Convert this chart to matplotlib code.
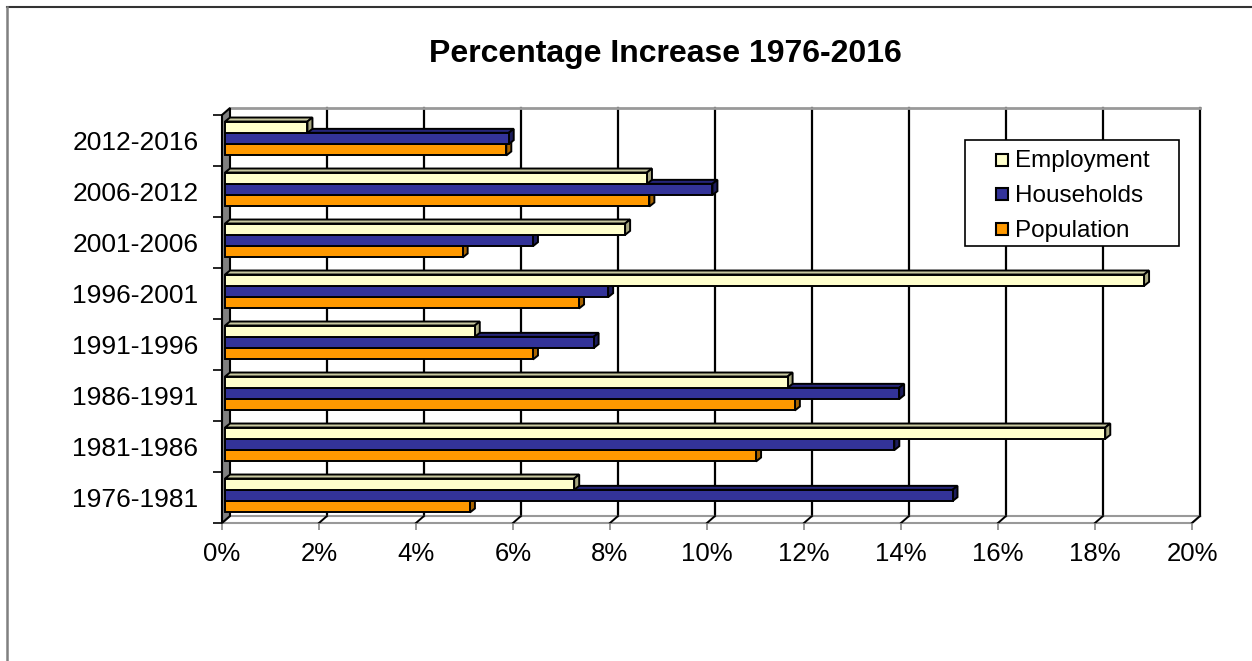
import numpy as np
import matplotlib
matplotlib.use("Agg")
import matplotlib.pyplot as plt
from matplotlib.patches import Polygon, Rectangle
from matplotlib.lines import Line2D
from matplotlib.transforms import offset_copy

plt.rcParams['font.family'] = ['Liberation Sans', 'DejaVu Sans']

# --- data (percent increase per period) ---
periods = ['1976-1981', '1981-1986', '1986-1991', '1991-1996',
           '1996-2001', '2001-2006', '2006-2012', '2012-2016']
employment = [7.2, 18.15, 11.6, 5.15, 18.95, 8.25, 8.7, 1.7]
households = [15.0, 13.8, 13.9, 7.6, 7.9, 6.35, 10.05, 5.85]
population = [5.05, 10.95, 11.75, 6.35, 7.3, 4.9, 8.75, 5.8]
x_ticks = [0, 2, 4, 6, 8, 10, 12, 14, 16, 18, 20]
series_names = ['Employment', 'Households', 'Population']

# colours: front, top, side
colors = {
    'Employment': ('#FFFFCC', '#C8C8A0', '#A8A880'),
    'Households': ('#333399', '#26267A', '#1C1C5C'),
    'Population': ('#FF9900', '#CC7A00', '#A86400'),
}

W, H = 1252, 661
fig = plt.figure(figsize=(W / 100, H / 100), dpi=100)

# front plane of the pseudo-3D box (pixels)
x0, x1, ytop, ybot = 222, 1192, 115, 523
ax = fig.add_axes([x0 / W, (H - ybot) / H, (x1 - x0) / W, (ybot - ytop) / H])
ax.set_xlim(0, 20)
ax.set_ylim(-0.5, 7.5)
for s in ax.spines.values():
    s.set_visible(False)

kx = 20 / (x1 - x0)   # data units per pixel
ky = 8 / (ybot - ytop)
wall_dx, wall_dy = 8, 7


def P(x, y, ox=0, oy=0):
    return (x + ox * kx, y + oy * ky)


# back wall gridlines + floor diagonals
for t in x_ticks[1:]:
    ax.plot([t + wall_dx * kx] * 2, [-0.5 + wall_dy * ky, 7.5 + wall_dy * ky],
            color='black', lw=1.6, zorder=1, clip_on=False)
    ax.plot([t, t + wall_dx * kx], [-0.5, -0.5 + wall_dy * ky],
            color='black', lw=1.4, zorder=1.5, clip_on=False)
ax.plot([wall_dx * kx, 20 + wall_dx * kx], [7.5 + wall_dy * ky] * 2,
        color='#999999', lw=2, zorder=1, clip_on=False)

# floor
ax.add_patch(Polygon([P(0, -0.5), P(20, -0.5), P(20, -0.5, wall_dx, wall_dy),
                      P(0, -0.5, wall_dx, wall_dy)], closed=True,
                     facecolor='none', edgecolor='#999999', lw=1.5,
                     zorder=1.2, clip_on=False))
# left wall
ax.add_patch(Polygon([P(0, -0.5), P(0, 7.5), P(0, 7.5, wall_dx, wall_dy),
                      P(0, -0.5, wall_dx, wall_dy)], closed=True,
                     facecolor='#808080', edgecolor='black', lw=1.5,
                     zorder=2, clip_on=False))

# bars (front face offset + depth)
fx_off, fy_off = 3, 2
dep_x, dep_y = 5, 4
bh = 0.222
ypos = np.arange(len(periods))
front_tr = offset_copy(ax.transData, fig=fig, x=fx_off, y=fy_off, units='dots')

series = [('Population', population, -bh), ('Households', households, 0.0),
          ('Employment', employment, bh)]
for k, (name, vals, shift) in enumerate(series):
    fc, tc, sc = colors[name]
    z = 3 + k * 0.1
    for yc, v in zip(ypos + shift, vals):
        yt = yc + bh / 2
        yb = yc - bh / 2
        top = [P(0, yt, fx_off, fy_off), P(v, yt, fx_off, fy_off),
               P(v, yt, fx_off + dep_x, fy_off + dep_y),
               P(0, yt, fx_off + dep_x, fy_off + dep_y)]
        side = [P(v, yb, fx_off, fy_off), P(v, yt, fx_off, fy_off),
                P(v, yt, fx_off + dep_x, fy_off + dep_y),
                P(v, yb, fx_off + dep_x, fy_off + dep_y)]
        ax.add_patch(Polygon(top, closed=True, facecolor=tc, edgecolor='black',
                             lw=1.4, zorder=z, clip_on=False))
        ax.add_patch(Polygon(side, closed=True, facecolor=sc, edgecolor='black',
                             lw=1.4, zorder=z, clip_on=False))
    ax.barh(ypos + shift, vals, height=bh, color=fc, edgecolor='black',
            linewidth=1.4, transform=front_tr, zorder=z, clip_on=False)

# ticks
ax.set_xticks(x_ticks)
ax.set_xticklabels([f'{t}%' for t in x_ticks], fontsize=18.5)
ax.tick_params(axis='x', length=5, width=1.2, color='#888888', pad=9)
ax.set_yticks(ypos)
ax.set_yticklabels(periods, fontsize=19)
ax.tick_params(axis='y', which='major', length=0, pad=17)
ax.set_yticks(np.arange(-0.5, 8, 1), minor=True)
ax.tick_params(axis='y', which='minor', length=6.5, width=1.2, color='black')

# title
fig.text(665 / W, 1 - 62 / H, 'Percentage Increase 1976-2016', ha='center',
         va='baseline', fontsize=23, fontweight='bold')

# legend box


def F(x, y):
    return (x / W, 1 - y / H)


fig.add_artist(Rectangle(F(965, 246), 214 / W, 106 / H, transform=fig.transFigure,
                         facecolor='white', edgecolor='black', lw=1.2, zorder=10))
for name, yc in zip(series_names, [159.5, 194, 229.5]):
    fig.add_artist(Rectangle(F(996, yc + 6), 12 / W, 12 / H, transform=fig.transFigure,
                             facecolor=colors[name][0], edgecolor='black', lw=1.5,
                             zorder=11))
    fig.text(1015 / W, 1 - (yc + 8) / H, name, fontsize=17.5, va='baseline',
             ha='left', zorder=11)

# outer chart border
fig.add_artist(Line2D([7 / W, 1], [1 - 7 / H] * 2, transform=fig.transFigure,
                      color='#333333', lw=1.5))
fig.add_artist(Line2D([7 / W] * 2, [0, 1 - 7 / H], transform=fig.transFigure,
                      color='#808080', lw=1.8))

fig.savefig('out.png', dpi=100)
